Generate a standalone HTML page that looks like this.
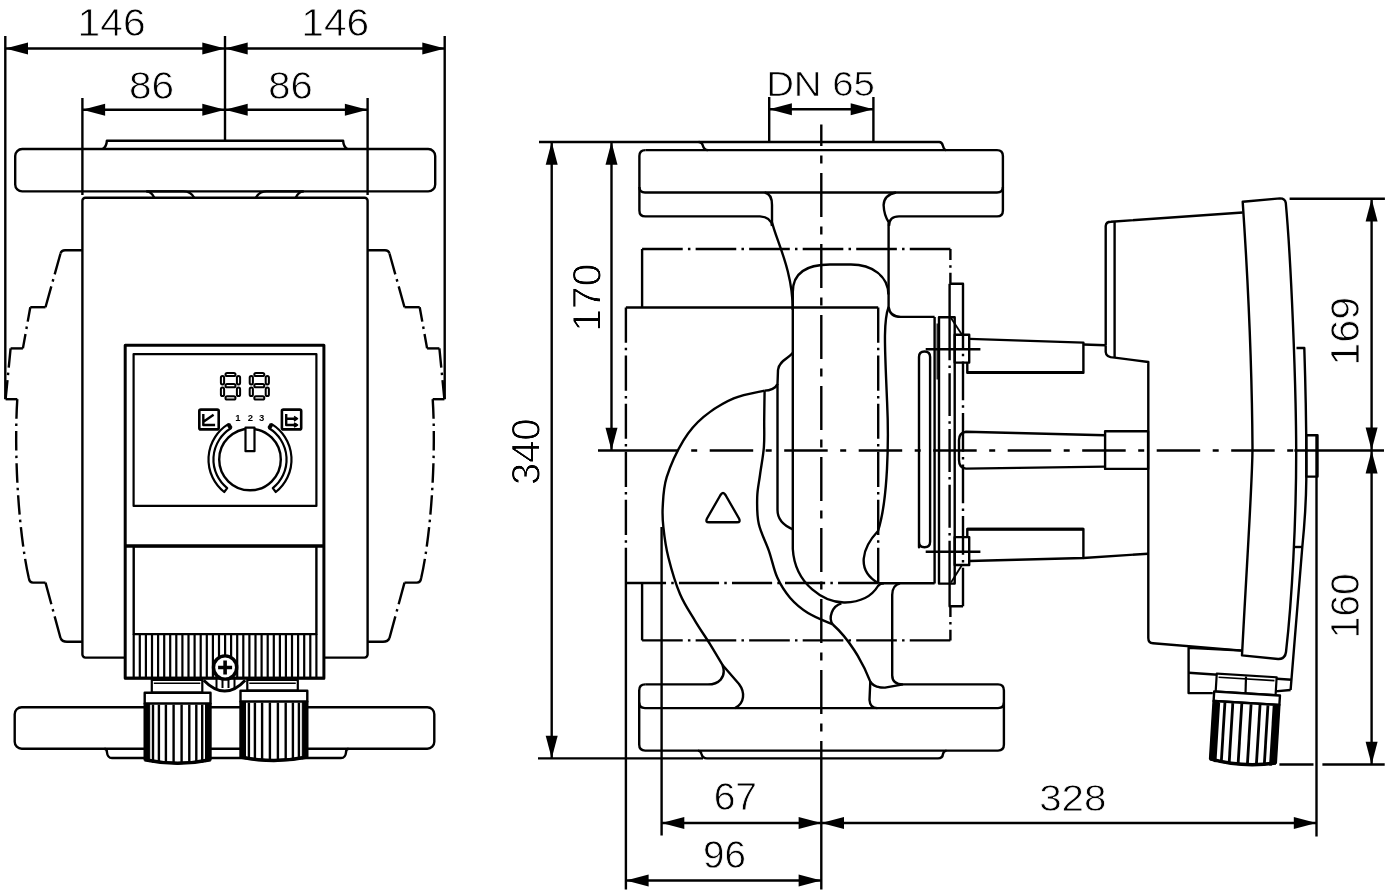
<!DOCTYPE html>
<html><head><meta charset="utf-8"><style>
html,body{margin:0;padding:0;background:#fff;}
svg{display:block;will-change:transform;}
text{font-family:"Liberation Sans",sans-serif;fill:#000;stroke:none;}
</style></head><body>
<svg width="1393" height="896" viewBox="0 0 1393 896">
<g fill="none" stroke="#000" stroke-linejoin="round" stroke-linecap="butt">
<line x1="5.3" y1="36" x2="5.3" y2="399.2" stroke-width="2.4" />
<line x1="444.7" y1="36" x2="444.7" y2="399.2" stroke-width="2.4" />
<line x1="225" y1="36" x2="225" y2="140.7" stroke-width="2.4" />
<line x1="5.3" y1="48.5" x2="445" y2="48.5" stroke-width="2.4" />
<polygon points="5.3,48.5 28.0,42.5 28.0,54.5" fill="#000" stroke="none"/>
<polygon points="225.0,48.5 202.3,42.5 202.3,54.5" fill="#000" stroke="none"/>
<polygon points="225.0,48.5 247.7,42.5 247.7,54.5" fill="#000" stroke="none"/>
<polygon points="445.0,48.5 422.3,42.5 422.3,54.5" fill="#000" stroke="none"/>
<text x="0" y="0" font-size="100" style="stroke:#fff;stroke-width:2" transform="matrix(0.4078 0 0 0.3887 77.54 36.21)">146</text>
<text x="0" y="0" font-size="100" style="stroke:#fff;stroke-width:2" transform="matrix(0.4071 0 0 0.3887 301.24 36.21)">146</text>
<line x1="82.4" y1="98" x2="82.4" y2="195" stroke-width="2.4" />
<line x1="367.6" y1="98" x2="367.6" y2="195" stroke-width="2.4" />
<line x1="82.4" y1="109.8" x2="367.6" y2="109.8" stroke-width="2.4" />
<polygon points="82.4,109.8 105.1,103.8 105.1,115.8" fill="#000" stroke="none"/>
<polygon points="225.0,109.8 202.3,103.8 202.3,115.8" fill="#000" stroke="none"/>
<polygon points="225.0,109.8 247.7,103.8 247.7,115.8" fill="#000" stroke="none"/>
<polygon points="367.6,109.8 344.9,103.8 344.9,115.8" fill="#000" stroke="none"/>
<text x="0" y="0" font-size="100" style="stroke:#fff;stroke-width:2" transform="matrix(0.4058 0 0 0.3915 128.98 99.21)">86</text>
<text x="0" y="0" font-size="100" style="stroke:#fff;stroke-width:2" transform="matrix(0.3990 0 0 0.3915 268.30 99.21)">86</text>
<rect x="15.2" y="149" width="420" height="42.4" rx="7" stroke-width="2.4" />
<path d="M102.6,149 Q106.5,147 106.9,140.7 L343.1,140.7 Q343.5,147 347.4,149" stroke-width="2.4" />
<path d="M146.8,191.4 L183.4,191.4 Q191,191.4 194.2,197.8" stroke-width="2.4" />
<path d="M146,191.4 Q151.5,191.4 154.3,197.8" stroke-width="2.4" />
<path d="M303.2,191.4 L266.6,191.4 Q259,191.4 255.8,197.8" stroke-width="2.4" />
<path d="M304,191.4 Q298.5,191.4 295.7,197.8" stroke-width="2.4" />
<rect x="82.4" y="197.8" width="285.2" height="459.8" rx="3" stroke-width="2.4" />
<path d="M82.4,250.2 L65,250.2 Q61.5,250.2 60.5,253.5" stroke-width="2.4" />
<path d="M60.5,253.5 L45.5,307.2" stroke-width="2.4" stroke-dasharray="21.63 5 2.5 5"/>
<path d="M45.5,307.2 L30.3,307.2" stroke-width="2.4" />
<path d="M30.3,307.2 L22.9,348.4" stroke-width="2.4" stroke-dasharray="14.68 5 2.5 5"/>
<path d="M22.9,348.4 L10.6,348.4" stroke-width="2.4" />
<path d="M10.6,348.4 L5.6,399.2" stroke-width="2.4" stroke-dasharray="19.27 5 2.5 5"/>
<path d="M5.6,399.2 L17.3,399.2" stroke-width="2.4" />
<path d="M17.3,399.2 C14,450 18,530 28.8,578" stroke-width="2.4" stroke-dasharray="19.52 5 2.5 5"/>
<path d="M28.8,578 Q29.5,582.6 33,582.6 L45.5,582.6" stroke-width="2.4" />
<path d="M45.5,582.6 L60.5,638" stroke-width="2.4" stroke-dasharray="22.45 5 2.5 5"/>
<path d="M60.5,638 Q62,641.8 67,641.8 L82.4,641.8" stroke-width="2.4" />
<path d="M367.6,250.2 L385,250.2 Q388.5,250.2 389.5,253.5" stroke-width="2.4" />
<path d="M389.5,253.5 L404.5,307.2" stroke-width="2.4" stroke-dasharray="21.63 5 2.5 5"/>
<path d="M404.5,307.2 L419.7,307.2" stroke-width="2.4" />
<path d="M419.7,307.2 L427.1,348.4" stroke-width="2.4" stroke-dasharray="14.68 5 2.5 5"/>
<path d="M427.1,348.4 L439.4,348.4" stroke-width="2.4" />
<path d="M439.4,348.4 L444.4,399.2" stroke-width="2.4" stroke-dasharray="19.27 5 2.5 5"/>
<path d="M444.4,399.2 L432.7,399.2" stroke-width="2.4" />
<path d="M432.7,399.2 C436,450 432,530 421.2,578" stroke-width="2.4" stroke-dasharray="19.52 5 2.5 5"/>
<path d="M421.2,578 Q420.5,582.6 417,582.6 L404.5,582.6" stroke-width="2.4" />
<path d="M404.5,582.6 L389.5,638" stroke-width="2.4" stroke-dasharray="22.45 5 2.5 5"/>
<path d="M389.5,638 Q388,641.8 383,641.8 L367.6,641.8" stroke-width="2.4" />
<rect x="125.2" y="345.2" width="198.7" height="333" rx="0" stroke-width="3" fill="#fff"/>
<rect x="133.6" y="354.1" width="182.8" height="151.8" rx="0" stroke-width="2.2" />
<line x1="125.2" y1="546.1" x2="324.9" y2="546.1" stroke-width="3.5" />
<rect x="133.7" y="546.1" width="182.7" height="88" rx="0" stroke-width="2.4" />
<circle cx="250" cy="459.5" r="30.8" stroke-width="2.4"/>
<rect x="245.5" y="427.6" width="9" height="23.6" rx="0" stroke-width="2.2" fill="#fff"/>
<path d="M224.2,492.0 A41.5,41.5 0 0 1 228.3,424.1 L230.9,428.3 A36.6,36.6 0 0 0 227.2,488.1 Z" stroke-width="2.2" />
<path d="M275.8,492.0 A41.5,41.5 0 0 0 271.7,424.1 L269.1,428.3 A36.6,36.6 0 0 1 272.8,488.1 Z" stroke-width="2.2" />
<line x1="230.9" y1="428.3" x2="228.3" y2="424.1" stroke-width="4"/>
<line x1="269.1" y1="428.3" x2="271.7" y2="424.1" stroke-width="4"/>
<rect x="199.3" y="409.6" width="19.4" height="19.8" rx="1.5" stroke-width="2.6" />
<rect x="281.9" y="409.6" width="19.3" height="19.8" rx="1.5" stroke-width="2.6" />
<path d="M203.3,414 L203.3,425 L215.1,425 M203.8,421.5 L213.6,414.8" stroke-width="2.4" />
<path d="M286.2,414 L286.2,425 L297,425 M286.2,418.7 L297,418.7" stroke-width="2.4" />
<path d="M294,416.5 L297.5,418.7 L294,421 M294,422.8 L297.5,425 L294,427.2" stroke-width="1.5" />
<text x="238" y="421" font-size="9.5" text-anchor="middle" font-weight="bold">1</text>
<text x="250.3" y="421" font-size="9.5" text-anchor="middle" font-weight="bold">2</text>
<text x="261.7" y="421" font-size="9.5" text-anchor="middle" font-weight="bold">3</text>
<rect x="225.5" y="372.9" width="10" height="3.2" rx="1.6" stroke-width="2"/>
<rect x="225.5" y="384.1" width="10" height="3.2" rx="1.6" stroke-width="2"/>
<rect x="225.5" y="396.3" width="10" height="3.2" rx="1.6" stroke-width="2"/>
<rect x="220.9" y="375.9" width="3.2" height="8.5" rx="1.6" stroke-width="2"/>
<rect x="236.9" y="375.9" width="3.2" height="8.5" rx="1.6" stroke-width="2"/>
<rect x="220.9" y="387.6" width="3.2" height="8.5" rx="1.6" stroke-width="2"/>
<rect x="236.9" y="387.6" width="3.2" height="8.5" rx="1.6" stroke-width="2"/>
<rect x="254.3" y="372.9" width="10" height="3.2" rx="1.6" stroke-width="2"/>
<rect x="254.3" y="384.1" width="10" height="3.2" rx="1.6" stroke-width="2"/>
<rect x="254.3" y="396.3" width="10" height="3.2" rx="1.6" stroke-width="2"/>
<rect x="249.7" y="375.9" width="3.2" height="8.5" rx="1.6" stroke-width="2"/>
<rect x="265.7" y="375.9" width="3.2" height="8.5" rx="1.6" stroke-width="2"/>
<rect x="249.7" y="387.6" width="3.2" height="8.5" rx="1.6" stroke-width="2"/>
<rect x="265.7" y="387.6" width="3.2" height="8.5" rx="1.6" stroke-width="2"/>
<rect x="14.7" y="707.2" width="419.6" height="41.5" rx="7" stroke-width="2.4" />
<path d="M104.5,748.7 Q107,749 107,752.5 Q107.5,758 112,758 L341,758 Q345.5,758 346,752.5 Q346,749 348.5,748.7" stroke-width="2.4" />
<line x1="133.7" y1="634" x2="133.7" y2="678" stroke-width="2.2" />
<line x1="139.8" y1="634" x2="139.8" y2="678" stroke-width="2.2" />
<line x1="145.9" y1="634" x2="145.9" y2="678" stroke-width="2.2" />
<line x1="152.0" y1="634" x2="152.0" y2="678" stroke-width="2.2" />
<line x1="158.1" y1="634" x2="158.1" y2="678" stroke-width="2.2" />
<line x1="164.2" y1="634" x2="164.2" y2="678" stroke-width="2.2" />
<line x1="170.2" y1="634" x2="170.2" y2="678" stroke-width="2.2" />
<line x1="176.3" y1="634" x2="176.3" y2="678" stroke-width="2.2" />
<line x1="182.4" y1="634" x2="182.4" y2="678" stroke-width="2.2" />
<line x1="188.5" y1="634" x2="188.5" y2="678" stroke-width="2.2" />
<line x1="194.6" y1="634" x2="194.6" y2="678" stroke-width="2.2" />
<line x1="200.7" y1="634" x2="200.7" y2="678" stroke-width="2.2" />
<line x1="206.8" y1="634" x2="206.8" y2="678" stroke-width="2.2" />
<line x1="212.9" y1="634" x2="212.9" y2="678" stroke-width="2.2" />
<line x1="219.0" y1="634" x2="219.0" y2="678" stroke-width="2.2" />
<line x1="225.1" y1="634" x2="225.1" y2="678" stroke-width="2.2" />
<line x1="231.1" y1="634" x2="231.1" y2="678" stroke-width="2.2" />
<line x1="237.2" y1="634" x2="237.2" y2="678" stroke-width="2.2" />
<line x1="243.3" y1="634" x2="243.3" y2="678" stroke-width="2.2" />
<line x1="249.4" y1="634" x2="249.4" y2="678" stroke-width="2.2" />
<line x1="255.5" y1="634" x2="255.5" y2="678" stroke-width="2.2" />
<line x1="261.6" y1="634" x2="261.6" y2="678" stroke-width="2.2" />
<line x1="267.7" y1="634" x2="267.7" y2="678" stroke-width="2.2" />
<line x1="273.8" y1="634" x2="273.8" y2="678" stroke-width="2.2" />
<line x1="279.9" y1="634" x2="279.9" y2="678" stroke-width="2.2" />
<line x1="285.9" y1="634" x2="285.9" y2="678" stroke-width="2.2" />
<line x1="292.0" y1="634" x2="292.0" y2="678" stroke-width="2.2" />
<line x1="298.1" y1="634" x2="298.1" y2="678" stroke-width="2.2" />
<line x1="304.2" y1="634" x2="304.2" y2="678" stroke-width="2.2" />
<line x1="310.3" y1="634" x2="310.3" y2="678" stroke-width="2.2" />
<line x1="316.4" y1="634" x2="316.4" y2="678" stroke-width="2.2" />
<line x1="125.2" y1="678" x2="324.9" y2="678" stroke-width="2.6" />
<path d="M203.7,680.2 Q225,702 245.2,680.2" stroke-width="3" />
<line x1="216.5" y1="678" x2="216.5" y2="688" stroke-width="2" />
<line x1="222.5" y1="678" x2="222.5" y2="688" stroke-width="2" />
<line x1="228.5" y1="678" x2="228.5" y2="688" stroke-width="2" />
<line x1="234.5" y1="678" x2="234.5" y2="688" stroke-width="2" />
<circle cx="225.1" cy="667.5" r="11.6" fill="#fff" stroke-width="3.4"/>
<path d="M225.1,660.5 L225.1,674.5 M218.1,667.5 L232.1,667.5" stroke-width="3.6" />
<g>
<rect x="151.8" y="679.8" width="50.5" height="12.900000000000091" rx="0" stroke-width="2.2" fill="#fff"/>
<line x1="153.8" y1="683.3" x2="200.3" y2="683.3" stroke-width="1.6" />
<rect x="144.7" y="692.7" width="65.80000000000001" height="10.899999999999977" rx="0" stroke-width="2.4" fill="#fff"/>
<path d="M144.7,703.6 L210.5,703.6 L210.5,759.7 Q177.6,766.7 144.7,759.7 Z" stroke-width="2.4" fill="#fff"/>
<path d="M144.7,703.6 L149.7,703.6 L149.7,761.7 Q146.7,760.7 144.7,759.7 Z" stroke-width="1" fill="#000"/>
<path d="M210.5,703.6 L205.5,703.6 L205.5,761.7 Q208.5,760.7 210.5,759.7 Z" stroke-width="1" fill="#000"/>
<path d="M144.7,759.7 Q177.6,766.7 210.5,759.7" stroke-width="3.5" />
<line x1="153.0" y1="704.6" x2="153.0" y2="762.7" stroke-width="2.4" />
<line x1="158.9" y1="704.6" x2="158.9" y2="762.7" stroke-width="2.4" />
<line x1="165.9" y1="704.6" x2="165.9" y2="762.7" stroke-width="2.4" />
<line x1="173.6" y1="704.6" x2="173.6" y2="762.7" stroke-width="2.4" />
<line x1="181.6" y1="704.6" x2="181.6" y2="762.7" stroke-width="2.4" />
<line x1="189.3" y1="704.6" x2="189.3" y2="762.7" stroke-width="2.4" />
<line x1="196.3" y1="704.6" x2="196.3" y2="762.7" stroke-width="2.4" />
<line x1="202.2" y1="704.6" x2="202.2" y2="762.7" stroke-width="2.4" />
</g>
<g>
<rect x="247.3" y="679.8" width="50.5" height="10.900000000000091" rx="0" stroke-width="2.2" fill="#fff"/>
<line x1="249.3" y1="683.3" x2="295.8" y2="683.3" stroke-width="1.6" />
<rect x="240.5" y="690.7" width="66.80000000000001" height="10.899999999999977" rx="0" stroke-width="2.4" fill="#fff"/>
<path d="M240.5,701.6 L307.3,701.6 L307.3,757 Q273.9,764 240.5,757 Z" stroke-width="2.4" fill="#fff"/>
<path d="M240.5,701.6 L245.5,701.6 L245.5,759 Q242.5,758 240.5,757 Z" stroke-width="1" fill="#000"/>
<path d="M307.3,701.6 L302.3,701.6 L302.3,759 Q305.3,758 307.3,757 Z" stroke-width="1" fill="#000"/>
<path d="M240.5,757 Q273.9,764 307.3,757" stroke-width="3.5" />
<line x1="248.9" y1="702.6" x2="248.9" y2="760" stroke-width="2.4" />
<line x1="254.9" y1="702.6" x2="254.9" y2="760" stroke-width="2.4" />
<line x1="262.1" y1="702.6" x2="262.1" y2="760" stroke-width="2.4" />
<line x1="269.9" y1="702.6" x2="269.9" y2="760" stroke-width="2.4" />
<line x1="277.9" y1="702.6" x2="277.9" y2="760" stroke-width="2.4" />
<line x1="285.7" y1="702.6" x2="285.7" y2="760" stroke-width="2.4" />
<line x1="292.9" y1="702.6" x2="292.9" y2="760" stroke-width="2.4" />
<line x1="298.9" y1="702.6" x2="298.9" y2="760" stroke-width="2.4" />
</g>
<line x1="821.3" y1="124.5" x2="821.3" y2="745" stroke-width="2.4" stroke-dasharray="44 9.5 8 9.5" stroke-dashoffset="22.6"/>
<line x1="821.3" y1="745" x2="821.3" y2="889.5" stroke-width="2.4" />
<line x1="598" y1="450.5" x2="678.3" y2="450.5" stroke-width="2.4" />
<line x1="691.2" y1="450.5" x2="1293.2" y2="450.5" stroke-width="2.4" stroke-dasharray="6 12.5 43.5 12.5"/>
<line x1="1294.4" y1="450.5" x2="1384" y2="450.5" stroke-width="2.4" />
<path d="M539,142 L698.6,142 Q702,142 703,146 Q704,150 708,150.1" stroke-width="2.4" />
<path d="M698.6,142 L939.2,142 Q942,142 943,146 Q944,150 946,150.1" stroke-width="2.4" />
<line x1="551.7" y1="142" x2="551.7" y2="758.4" stroke-width="2.4" />
<polygon points="551.7,142.0 545.7,164.7 557.7,164.7" fill="#000" stroke="none"/>
<polygon points="551.7,758.4 545.7,735.7 557.7,735.7" fill="#000" stroke="none"/>
<line x1="611.5" y1="142" x2="611.5" y2="450.5" stroke-width="2.4" />
<polygon points="611.5,142.0 605.5,164.7 617.5,164.7" fill="#000" stroke="none"/>
<polygon points="611.5,450.5 605.5,427.8 617.5,427.8" fill="#000" stroke="none"/>
<text x="0" y="0" font-size="100" style="stroke:#fff;stroke-width:2" transform="translate(539.50 484.99) rotate(-90) scale(0.3987 0.3972)">340</text>
<text x="0" y="0" font-size="100" style="stroke:#fff;stroke-width:2" transform="translate(600.50 331.77) rotate(-90) scale(0.4084 0.3972)">170</text>
<line x1="769.2" y1="97" x2="769.2" y2="142" stroke-width="2.4" />
<line x1="873.4" y1="97" x2="873.4" y2="142" stroke-width="2.4" />
<line x1="769.2" y1="109.2" x2="873.4" y2="109.2" stroke-width="2.4" />
<polygon points="769.2,109.2 791.9,103.2 791.9,115.2" fill="#000" stroke="none"/>
<polygon points="873.4,109.2 850.7,103.2 850.7,115.2" fill="#000" stroke="none"/>
<text x="0" y="0" font-size="100" style="stroke:#fff;stroke-width:2" transform="matrix(0.3841 0 0 0.3549 766.13 96.35)">DN 65</text>
<line x1="538" y1="758.4" x2="703" y2="758.4" stroke-width="2.4" />
<line x1="625.9" y1="583" x2="625.9" y2="889.5" stroke-width="2.4" />
<line x1="661.6" y1="527" x2="661.6" y2="835.6" stroke-width="2.4" />
<line x1="661.6" y1="823" x2="1316.5" y2="823" stroke-width="2.4" />
<polygon points="661.6,823.0 684.3,817.0 684.3,829.0" fill="#000" stroke="none"/>
<polygon points="821.3,823.0 798.6,817.0 798.6,829.0" fill="#000" stroke="none"/>
<polygon points="821.3,823.0 844.0,817.0 844.0,829.0" fill="#000" stroke="none"/>
<polygon points="1316.5,823.0 1293.8,817.0 1293.8,829.0" fill="#000" stroke="none"/>
<line x1="625.9" y1="880.5" x2="821.3" y2="880.5" stroke-width="2.4" />
<polygon points="625.9,880.5 648.6,874.5 648.6,886.5" fill="#000" stroke="none"/>
<polygon points="821.3,880.5 798.6,874.5 798.6,886.5" fill="#000" stroke="none"/>
<text x="0" y="0" font-size="100" style="stroke:#fff;stroke-width:2" transform="matrix(0.3901 0 0 0.3789 713.65 810.12)">67</text>
<text x="0" y="0" font-size="100" style="stroke:#fff;stroke-width:2" transform="matrix(0.3863 0 0 0.3789 702.97 868.22)">96</text>
<text x="0" y="0" font-size="100" style="stroke:#fff;stroke-width:2" transform="matrix(0.4032 0 0 0.3761 1039.19 810.82)">328</text>
<path d="M645.4,150.1 L997,150.1 Q1002.9,150.1 1002.9,156 L1002.9,210.4 Q1002.9,216.4 997,216.4 L899,216.4 Q889,216.4 889,226" stroke-width="2.4" />
<path d="M645.4,150.1 Q639.4,150.1 639.4,156 L639.4,210.4 Q639.4,216.4 645.4,216.4 L760,216.4 Q771,217 772,226" stroke-width="2.4" />
<path d="M639.4,187 Q639.4,192.5 645,192.5 L997,192.5 Q1002.9,192.5 1002.9,187" stroke-width="2.4" />
<path d="M764.7,192.5 Q772,194 772,205 L772,222 C776,240 792.8,270 792.8,310" stroke-width="2.4" />
<path d="M896,192.5 Q884,195 883.6,205 Q884,215 888.6,222 L888.6,307" stroke-width="2.4" />
<path d="M645.2,684.4 Q639.2,684.4 639.2,690.4 L639.2,744.6 Q639.2,750.6 645.2,750.6 L998,750.6 Q1003.9,750.6 1003.9,744.6 L1003.9,690.4 Q1003.9,684.4 998,684.4 L903,684.4" stroke-width="2.4" />
<path d="M645.2,684.4 L708,684.4" stroke-width="2.4" />
<path d="M639.2,702.5 Q639.2,708.1 645,708.1 L998,708.1 Q1003.9,708.1 1003.9,702.5" stroke-width="2.4" />
<path d="M698,750.6 Q701,751 701.5,754 Q702.5,758.4 707,758.4 L938,758.4 Q942.5,758.4 943,754 Q943.5,751 946.5,750.6" stroke-width="2.4" />
<path d="M642.1,249 L950.4,249" stroke-width="2.4" stroke-dasharray="40.63 5.2 2.5 5.2"/>
<path d="M642.1,249 L642.1,307.5" stroke-width="2.4" />
<path d="M642.1,583 L642.1,640.4" stroke-width="2.4" />
<path d="M642.1,640.4 L950.4,640.4" stroke-width="2.4" stroke-dasharray="40.63 5.2 2.5 5.2"/>
<path d="M950.4,249 L950.4,283.8" stroke-width="2.4" stroke-dasharray="10.95 5.2 2.5 5.2"/>
<path d="M950.4,606.3 L950.4,640.4" stroke-width="2.4" stroke-dasharray="10.60 5.2 2.5 5.2"/>
<path d="M949.6,317.3 L949.6,583.6" stroke-width="2.4" stroke-dasharray="42.94 5.2 2.5 5.2"/>
<line x1="625.9" y1="307.5" x2="878.2" y2="307.5" stroke-width="2.4" />
<path d="M625.9,307.5 L625.9,583" stroke-width="2.4" stroke-dasharray="35.17 5.2 2.5 5.2"/>
<path d="M878.2,307.5 L878.2,583" stroke-width="2.4" stroke-dasharray="35.17 5.2 2.5 5.2"/>
<path d="M625.9,583 L878.2,583" stroke-width="2.4" stroke-dasharray="40.14 5.2 2.5 5.2"/>
<line x1="878.2" y1="583.3" x2="934.6" y2="583.3" stroke-width="2.4" />
<path d="M792.8,310 L792.8,292 C792.8,272 808,264.5 830,264.5 L851,264.5 C872,264.5 888.4,276 888.4,294.6" stroke-width="2.4" />
<path d="M888.6,307 Q890,316.9 900.7,316.9 L934.6,316.9" stroke-width="2.4" />
<path d="M888.6,307 C883,322 885,350 887,400 C889,440 888,500 878,531 C862,548 856,570 878,583" stroke-width="2.4" />
<path d="M792.8,310 L792.8,549 C795,585 825,603 845,602.5 C862,602 872,596 878,586 Q880,583.3 884,583.3" stroke-width="2.4" />
<path d="M792.5,352.7 C790,358 779,360 778,370 L777.5,384 C776,388 770,390.6 764.6,390.6" stroke-width="2.4" />
<path d="M777.5,384 L777.5,510 C777.5,520 785,526 792.8,529.3" stroke-width="2.4" />
<path d="M764.6,390.6 C759.5,391.9 743.9,394.0 733.7,398.4 C723.5,402.8 712.0,409.8 703.6,416.8 C695.2,423.8 689.6,430.2 683.5,440.3 C677.4,450.4 670.2,465.9 666.7,477.1 C663.2,488.3 663.2,498.9 662.7,507.3 C662.2,515.7 662.5,519.0 663.4,527.4 C664.3,535.8 665.6,546.4 668.4,557.5 C671.2,568.6 675.6,583.7 680.1,594.3 C684.6,604.9 690.2,612.7 695.2,621.1 C700.2,629.5 705.8,637.3 710.3,644.6 C714.8,651.9 720.5,661.6 722.5,665.0 C727,678 718,684.4 708,684.4" stroke-width="2.4" />
<path d="M764.6,390.6 C764.5,395.5 764.3,410.6 764.2,420.0 C764.1,429.4 764.6,437.8 763.9,447.0 C763.2,456.2 761.1,466.6 760.0,475.0 C758.9,483.4 757.4,489.0 757.2,497.2 C757.0,505.4 756.8,515.1 758.8,524.0 C760.8,532.9 765.8,541.9 768.9,550.8 C772.0,559.7 773.8,569.8 777.3,577.6 C780.8,585.4 784.9,591.8 790.0,597.7 C795.1,603.6 800.9,608.5 808.0,613.0 C815.1,617.5 828.7,622.6 832.8,624.5" stroke-width="2.4" />
<path d="M832.8,624.5 C828,618 832,606 841.4,603.4" stroke-width="2.4" />
<path d="M722.5,665 L739,684 C745,692 745,703 735,708.1" stroke-width="2.4" />
<path d="M832.8,624.5 C848,638 862,660 870.3,681.6 Q874,687.8 885,687.6 L903,684.4" stroke-width="2.4" />
<path d="M870.3,681.6 L869.5,700 Q870,708.1 877.3,708.1" stroke-width="2.4" />
<path d="M900,583.3 Q892.2,585 892.2,595 L892.2,675.3 Q892.2,684.4 903,684.4" stroke-width="2.4" />
<path d="M720.5,495 Q723,491 725.5,495 L739,518.5 Q741,522.3 737,522.3 L709,522.3 Q705,522.3 707,518.5 Z" stroke-width="2.4" />
<line x1="934.6" y1="316.9" x2="934.6" y2="583.6" stroke-width="2.4" />
<rect x="939" y="317.3" width="15.7" height="266.3" rx="0" stroke-width="2.4" />
<line x1="937.2" y1="323.6" x2="937.2" y2="379.4" stroke-width="1.3" />
<path d="M951,318 L962,334.7" stroke-width="1.8" />
<path d="M951,582.6 L962,565" stroke-width="1.8" />
<path d="M949.6,283.8 L963,283.8 L963,310" stroke-width="2.4" />
<line x1="949.6" y1="283.8" x2="949.6" y2="317.3" stroke-width="2.4" />
<path d="M963,310 L963,606.3" stroke-width="2.4" stroke-dasharray="38.63 5.2 2.5 5.2"/>
<path d="M949.6,583.6 L949.6,606.3 L963,606.3" stroke-width="2.4" />
<path d="M919,547.2 L919,357 Q919,351.5 924.5,351.5 Q930.1,351.5 930.1,357 L930.1,541.7 Q930.1,547.2 924.5,547.2 Q919,547.2 919,541.7 Z" stroke-width="2.4" />
<rect x="954.7" y="334.7" width="14.5" height="27.9" rx="0" stroke-width="2.4" />
<rect x="954.7" y="537.1" width="14.5" height="27.9" rx="0" stroke-width="2.4" />
<line x1="925.7" y1="349.2" x2="980.4" y2="349.2" stroke-width="2.4" />
<line x1="925.7" y1="551.7" x2="980.4" y2="551.7" stroke-width="2.4" />
<path d="M969.2,338.9 L1083.4,342.6 L1083.4,372.8 L967.3,372.8 L967.3,362.6" stroke-width="2.4" fill="none"/>
<line x1="967.3" y1="372.5" x2="1083.4" y2="372.5" stroke-width="3" />
<path d="M969.2,561 L1083.4,558 L1083.4,529 L967.3,529 L967.3,537.1" stroke-width="2.4" />
<line x1="967.3" y1="529.3" x2="1083.4" y2="529.3" stroke-width="3" />
<path d="M1083.4,558 L1148.1,553.7" stroke-width="2.4" />
<path d="M1105.1,435.2 L966,431.8 Q959,433 959,440 L959,460 Q959,468 966,468.6 L1105.1,466.6" stroke-width="2.4" />
<rect x="1105.1" y="431.2" width="43" height="37.7" rx="0" stroke-width="2.4" />
<line x1="1289.6" y1="198.7" x2="1384.9" y2="198.7" stroke-width="2.4" />
<line x1="1371.6" y1="198.7" x2="1371.6" y2="764.4" stroke-width="2.4" />
<polygon points="1371.6,198.7 1365.6,221.4 1377.6,221.4" fill="#000" stroke="none"/>
<polygon points="1371.6,450.3 1365.6,427.6 1377.6,427.6" fill="#000" stroke="none"/>
<polygon points="1371.6,450.7 1365.6,473.4 1377.6,473.4" fill="#000" stroke="none"/>
<polygon points="1371.6,764.4 1365.6,741.7 1377.6,741.7" fill="#000" stroke="none"/>
<line x1="1279.4" y1="764.5" x2="1313.5" y2="764.5" stroke-width="2.4" />
<line x1="1322.4" y1="764.5" x2="1384.7" y2="764.5" stroke-width="2.4" />
<line x1="1316.5" y1="435" x2="1316.5" y2="836.4" stroke-width="2.4" />
<text x="0" y="0" font-size="100" style="stroke:#fff;stroke-width:2" transform="translate(1359.10 365.81) rotate(-90) scale(0.4136 0.4014)">169</text>
<text x="0" y="0" font-size="100" style="stroke:#fff;stroke-width:2" transform="translate(1358.99 638.53) rotate(-90) scale(0.3910 0.4141)">160</text>
<path d="M1083.4,344.5 L1105.7,345.2" stroke-width="2.4" />
<path d="M1105.7,345.5 L1105.7,226 Q1106,221.7 1111,221.7 L1242.7,212.5" stroke-width="2.4" />
<line x1="1114.6" y1="221.7" x2="1114.6" y2="357.6" stroke-width="2.4" />
<path d="M1105.7,345.5 L1105.7,352 Q1106,357.6 1114.6,357.6 L1148.3,362 L1148.3,638 Q1148.3,643 1153,643.2 L1242.5,650.6" stroke-width="2.4" />
<path d="M1242.7,201.8 L1280,198.4 Q1285.2,198.4 1285.8,203 C1291,260 1296,380 1296.2,450.5 C1296.3,520 1292,600 1286,652 Q1285,659.4 1278,659 L1242,655.4 C1247,560 1252.5,480 1252.5,447.8 C1252,370 1248,280 1242.7,201.8 Z" stroke-width="2.4" />
<path d="M1296.5,348 L1304.3,348 C1306,400 1306.5,450 1306.3,480 C1306,510 1304,530 1302.3,547 L1290.6,690" stroke-width="2.4" />
<line x1="1294.3" y1="547" x2="1302.3" y2="547" stroke-width="2.4" />
<rect x="1306.3" y="435.3" width="11.2" height="41.3" rx="0" stroke-width="2.4" />
<path d="M1242.5,650.6 L1188.6,647.8 L1188.6,693.1 L1212.8,693.1" stroke-width="2.4" />
<path d="M1272.2,691.6 L1290.6,690" stroke-width="2.4" />
<line x1="1188.6" y1="672.8" x2="1291.7" y2="679.8" stroke-width="2.4" />
<g transform="rotate(3.5 1246 720)">
<rect x="1214" y="675.5" width="60" height="18.0" rx="0" stroke-width="2.2" fill="#fff"/>
<line x1="1216" y1="679.0" x2="1272" y2="679.0" stroke-width="1.6" />
<rect x="1212.5" y="693.5" width="65.90000000000009" height="9.5" rx="0" stroke-width="2.4" fill="#fff"/>
<path d="M1212.5,703 L1278.4,703 L1278.4,761 Q1245.45,768 1212.5,761 Z" stroke-width="2.4" fill="#fff"/>
<path d="M1212.5,703 L1217.5,703 L1217.5,763 Q1214.5,762 1212.5,761 Z" stroke-width="1" fill="#000"/>
<path d="M1278.4,703 L1273.4,703 L1273.4,763 Q1276.4,762 1278.4,761 Z" stroke-width="1" fill="#000"/>
<path d="M1212.5,761 Q1245.45,768 1278.4,761" stroke-width="3.5" />
<line x1="1217.7" y1="704" x2="1217.7" y2="764" stroke-width="2.8" />
<line x1="1223.9" y1="704" x2="1223.9" y2="764" stroke-width="2.8" />
<line x1="1231.8" y1="704" x2="1231.8" y2="764" stroke-width="2.8" />
<line x1="1240.8" y1="704" x2="1240.8" y2="764" stroke-width="2.8" />
<line x1="1250.1" y1="704" x2="1250.1" y2="764" stroke-width="2.8" />
<line x1="1259.1" y1="704" x2="1259.1" y2="764" stroke-width="2.8" />
<line x1="1267.0" y1="704" x2="1267.0" y2="764" stroke-width="2.8" />
<line x1="1273.2" y1="704" x2="1273.2" y2="764" stroke-width="2.8" />
</g>
<path d="M1246,676.5 L1245.5,694" stroke-width="2.2" />
</g>
</svg>
</body></html>
